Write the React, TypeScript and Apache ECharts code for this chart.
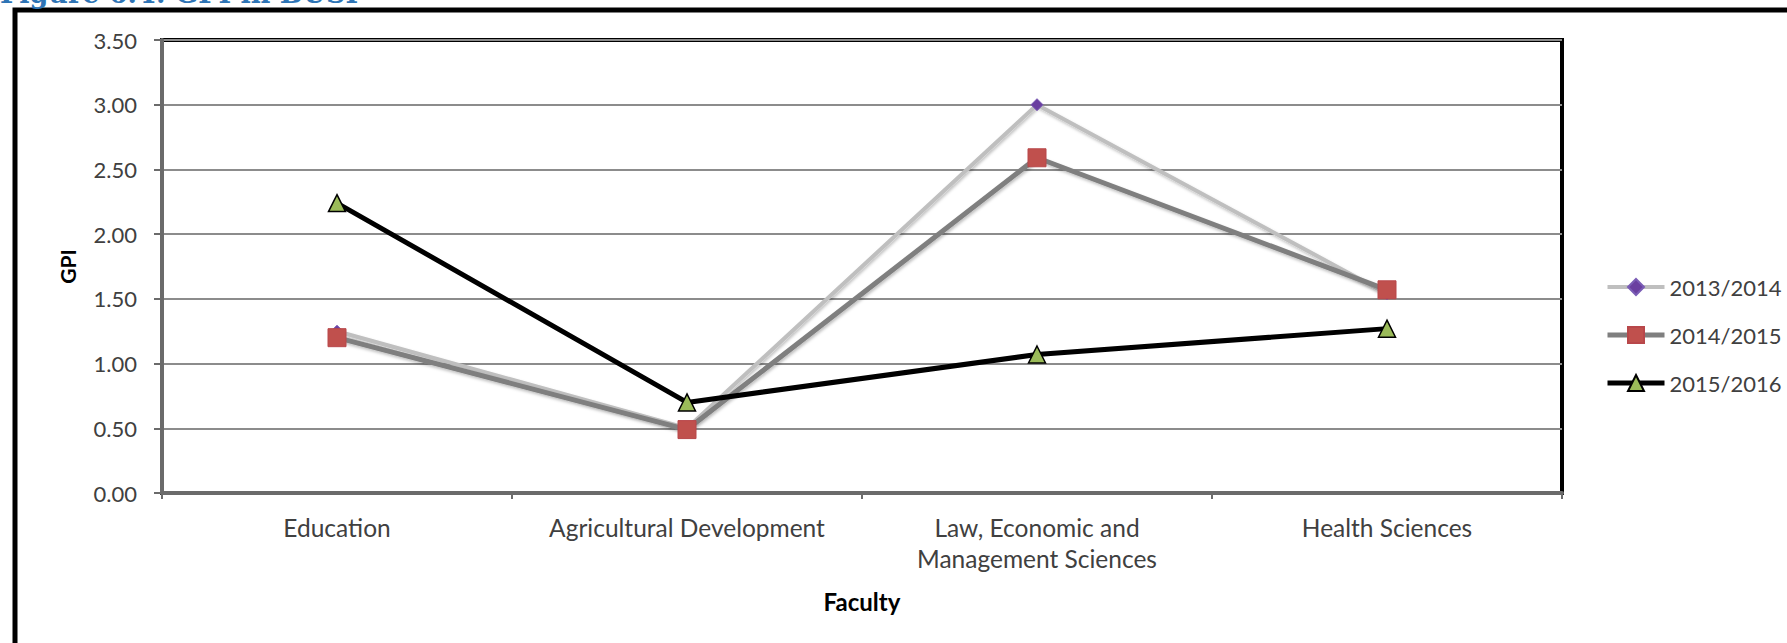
import React, { useEffect, useRef } from "react";
import * as echarts from "echarts";

const categories = [
  "Education",
  "Agricultural Development",
  "Law, Economic and\nManagement Sciences",
  "Health Sciences",
];
const seriesNames = ["2013/2014", "2014/2015", "2015/2016"];
const gpi20132014 = [1.25, 0.5, 3.0, 1.54];
const gpi20142015 = [1.2, 0.49, 2.59, 1.57];
const gpi20152016 = [2.24, 0.7, 1.07, 1.27];
const yMin = 0;
const yMax = 3.5;
const yStep = 0.5;
const xTitle = "Faculty";
const yTitle = "GPI";
const figureCaption = "Figure 6.4: GPI in BUSI";

const FONT = "Lato, 'Open Sans', sans-serif";

export default function App() {
  const ref = useRef<HTMLDivElement>(null);
  useEffect(() => {
    if (!ref.current) return;
    const chart = echarts.init(ref.current, undefined, { renderer: "svg" });
    const shadow = {
      shadowColor: "rgba(0,0,0,0.25)",
      shadowBlur: 3,
      shadowOffsetX: 1,
      shadowOffsetY: 2,
    };
    const lineWidths = [4, 5, 5];
    chart.setOption({
      animation: false,
      backgroundColor: "#ffffff",
      grid: {
        left: 162,
        top: 40,
        right: 225,
        bottom: 150,
        show: true,
        borderColor: "#000000",
        borderWidth: 4,
        backgroundColor: "transparent",
      },
      legend: {
        orient: "vertical",
        left: 1600,
        top: 268,
        itemWidth: 57,
        itemHeight: 20,
        itemGap: 20,
        data: seriesNames.map((n, i) => ({
          name: n,
          lineStyle: { width: lineWidths[i] },
        })),
        textStyle: {
          fontFamily: FONT,
          fontSize: 22,
          color: "#404040",
          lineHeight: 28,
        },
      },
      xAxis: {
        type: "category",
        data: categories,
        boundaryGap: true,
        name: xTitle,
        nameLocation: "middle",
        nameGap: 96,
        nameTextStyle: {
          fontFamily: FONT,
          fontSize: 24,
          fontWeight: "bold",
          color: "#000000",
        },
        axisLine: { show: true, lineStyle: { color: "#6b6b6b", width: 4 } },
        axisTick: {
          show: true,
          length: 6,
          lineStyle: { color: "#6b6b6b", width: 2 },
        },
        axisLabel: {
          margin: 19,
          fontFamily: FONT,
          fontSize: 24.5,
          lineHeight: 31,
          color: "#404040",
          interval: 0,
        },
        splitLine: { show: false },
      },
      yAxis: {
        type: "value",
        min: yMin,
        max: yMax,
        interval: yStep,
        name: yTitle,
        nameLocation: "middle",
        nameGap: 84,
        nameRotate: 90,
        nameTextStyle: {
          fontFamily: FONT,
          fontSize: 21,
          fontWeight: "bold",
          color: "#000000",
        },
        axisLine: { show: true, lineStyle: { color: "#6b6b6b", width: 4 } },
        axisTick: {
          show: true,
          length: 8,
          lineStyle: { color: "#6b6b6b", width: 2 },
        },
        axisLabel: {
          margin: 25,
          fontFamily: FONT,
          fontSize: 22,
          color: "#404040",
          formatter: (v: number) => v.toFixed(2),
        },
        splitLine: { show: true, lineStyle: { color: "#8c8c8c", width: 2 } },
      },
      graphic: [
        {
          type: "rect",
          z: 100,
          silent: true,
          shape: { x: 15, y: 10, width: 2000, height: 1000 },
          style: { fill: "none", stroke: "#000000", lineWidth: 5 },
        },
        {
          type: "text",
          z: 100,
          left: 0,
          top: -20,
          style: {
            text: figureCaption,
            fontFamily: "'DejaVu Serif', 'Liberation Serif', serif",
            fontWeight: "bold",
            fontSize: 27,
            fill: "#2e74b5",
          },
        },
      ],
      series: [
        {
          name: seriesNames[0],
          type: "line",
          data: gpi20132014,
          symbol: "diamond",
          symbolSize: 12,
          itemStyle: { color: "#6a3fa0", borderColor: "#7a5cb5", borderWidth: 1 },
          lineStyle: { color: "#bfbfbf", width: lineWidths[0], ...shadow },
          z: 2,
        },
        {
          name: seriesNames[1],
          type: "line",
          data: gpi20142015,
          symbol: "rect",
          symbolSize: 18,
          itemStyle: { color: "#c0504d", borderColor: "#b8474a", borderWidth: 1 },
          lineStyle: { color: "#7f7f7f", width: lineWidths[1], ...shadow },
          z: 3,
        },
        {
          name: seriesNames[2],
          type: "line",
          data: gpi20152016,
          symbol: "triangle",
          symbolSize: 17,
          itemStyle: { color: "#9bbb59", borderColor: "#000000", borderWidth: 1.5 },
          lineStyle: { color: "#000000", width: lineWidths[2] },
          z: 4,
        },
      ],
    });
    return () => chart.dispose();
  }, []);
  return (
    <div
      ref={ref}
      style={{ position: "fixed", left: 0, top: 0, width: 1787, height: 643 }}
    />
  );
}
